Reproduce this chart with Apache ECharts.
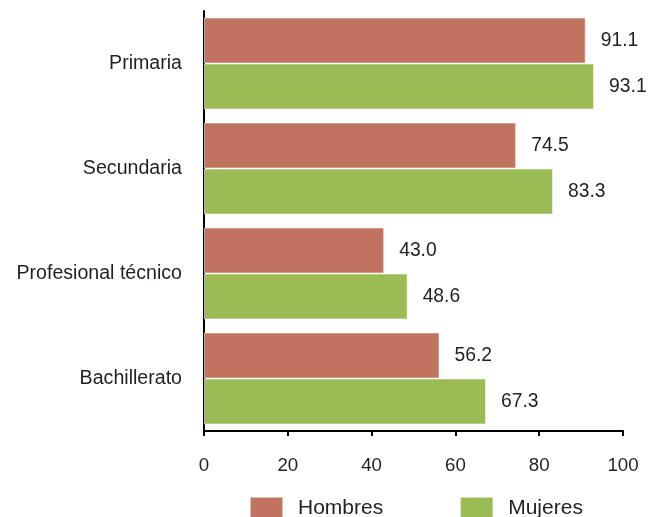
<!DOCTYPE html>
<html>
<head>
<meta charset="utf-8">
<script src="https://cdn.jsdelivr.net/npm/echarts@6/dist/echarts.min.js"></script>
<style>
  html, body { margin: 0; padding: 0; background: #ffffff; }
  #chart { width: 657px; height: 517px; }
</style>
</head>
<body>
<div id="chart"></div>
<script>
// Education levels (top to bottom)
const categories = ['Primaria', 'Secundaria', 'Profesional técnico', 'Bachillerato'];
const hombres = [91.1, 74.5, 43.0, 56.2];
const mujeres = [93.1, 83.3, 48.6, 67.3];
const xTicks = [0, 20, 40, 60, 80, 100];

const font = 'Liberation Sans, Arial, sans-serif';
const textColor = '#231f20';

const chart = echarts.init(document.getElementById('chart'));

function barLabel() {
  return {
    show: true,
    position: 'right',
    distance: 15,
    fontFamily: font,
    fontSize: 19.3,
    color: textColor,
    formatter: p => p.value.toFixed(1)
  };
}

chart.setOption({
  animation: false,
  grid: { left: 204, right: 34, top: 11, bottom: 86, containLabel: false },
  legend: {
    left: 249,
    top: 496,
    padding: 0,
    itemWidth: 33,
    itemHeight: 22,
    itemGap: 76,
    icon: 'rect',
    textStyle: { fontFamily: font, fontSize: 21, color: textColor, padding: [0, 0, 0, 10] },
    data: ['Hombres', 'Mujeres']
  },
  xAxis: {
    type: 'value',
    min: xTicks[0],
    max: xTicks[xTicks.length - 1],
    interval: 20,
    axisLine: { show: true, lineStyle: { color: '#000000', width: 2 } },
    axisTick: { show: true, length: 5, lineStyle: { color: '#000000', width: 2 } },
    axisLabel: { margin: 25, fontFamily: font, fontSize: 18.7, color: textColor },
    splitLine: { show: false }
  },
  yAxis: {
    type: 'category',
    inverse: true,
    data: categories,
    axisLine: { show: true, lineStyle: { color: '#000000', width: 2 } },
    axisTick: { show: false },
    axisLabel: { margin: 22, fontFamily: font, fontSize: 19.6, color: textColor }
  },
  series: [
    {
      name: 'Hombres',
      type: 'bar',
      data: hombres,
      barGap: '0%',
      barCategoryGap: '12.4%',
      itemStyle: { color: '#c0735f', borderColor: 'rgba(255,255,255,0.55)', borderWidth: 1 },
      label: barLabel()
    },
    {
      name: 'Mujeres',
      type: 'bar',
      data: mujeres,
      barGap: '0%',
      barCategoryGap: '12.4%',
      itemStyle: { color: '#9bbb55', borderColor: 'rgba(255,255,255,0.55)', borderWidth: 1 },
      label: barLabel()
    }
  ]
});
</script>
</body>
</html>
